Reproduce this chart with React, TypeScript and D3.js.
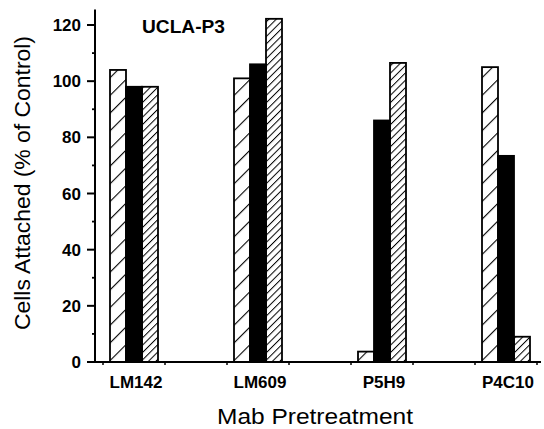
import * as d3 from 'd3';
import { useEffect, useRef } from 'react';

const categories = ['LM142', 'LM609', 'P5H9', 'P4C10'];
const series = ['open', 'solid', 'dense'];
const openValues = [104, 101, 3.7, 105];
const solidValues = [98, 106, 86, 73.4];
const denseValues = [98, 122.2, 106.5, 9];
const majorTicks = [0, 20, 40, 60, 80, 100, 120];
const minorTicks = [10, 30, 50, 70, 90, 110];

const width = 544;
const height = 429;

export default function App() {
    const svgRef = useRef<SVGSVGElement>(null);

    useEffect(() => {
        if (!svgRef.current) return;
        const svg = d3.select(svgRef.current);
        svg.selectAll('*').remove();

        const font = 'Liberation Sans, Arial, Helvetica, sans-serif';

        // hatch patterns
        const defs = svg.append('defs');
        const addHatch = (id: string, size: number, sw: number) => {
            defs.append('pattern')
                .attr('id', id)
                .attr('patternUnits', 'userSpaceOnUse')
                .attr('width', size)
                .attr('height', size)
                .attr('patternTransform', 'rotate(45)')
                .append('line')
                .attr('x1', 0).attr('y1', 0)
                .attr('x2', 0).attr('y2', size)
                .attr('stroke', '#000')
                .attr('stroke-width', sw);
        };
        addHatch('hatch-open', 12.5, 2.2);
        addHatch('hatch-dense', 5.2, 2);

        const x = d3.scalePoint<string>().domain(categories).range([134, 506]);
        const step = x.step();
        const inner = d3.scaleBand<string>().domain(series).range([-24, 24]).padding(0);
        const y = d3.scaleLinear().domain([0, 120]).range([362, 25]);

        const rows = categories.map((c, i) => ({
            cat: c,
            vals: [
                { s: 'open', v: openValues[i] },
                { s: 'solid', v: solidValues[i] },
                { s: 'dense', v: denseValues[i] },
            ],
        }));

        const fills: Record<string, string> = {
            open: 'url(#hatch-open)',
            solid: '#000',
            dense: 'url(#hatch-dense)',
        };

        // bars
        svg.append('g')
            .selectAll('g')
            .data(rows)
            .join('g')
            .attr('transform', (d) => `translate(${x(d.cat)},0)`)
            .selectAll('rect')
            .data((d) => d.vals)
            .join('rect')
            .attr('x', (d) => inner(d.s)!)
            .attr('width', inner.bandwidth())
            .attr('y', (d) => y(d.v))
            .attr('height', (d) => y(0) - y(d.v))
            .attr('fill', (d) => fills[d.s])
            .attr('stroke', '#000')
            .attr('stroke-width', 1.8);

        // y axis
        const yAxis = svg.append('g').attr('transform', 'translate(95,0)');
        yAxis.append('line')
            .attr('x1', 0).attr('x2', 0)
            .attr('y1', y(0)).attr('y2', y(125.5))
            .attr('stroke', '#000').attr('stroke-width', 2);
        yAxis.selectAll('.major')
            .data(majorTicks)
            .join('line')
            .attr('x1', -8).attr('x2', 0)
            .attr('y1', (d) => y(d)).attr('y2', (d) => y(d))
            .attr('stroke', '#000').attr('stroke-width', 2);
        yAxis.selectAll('.minor')
            .data(minorTicks)
            .join('line')
            .attr('x1', -3).attr('x2', 0)
            .attr('y1', (d) => y(d)).attr('y2', (d) => y(d))
            .attr('stroke', '#000').attr('stroke-width', 1.8);
        yAxis.selectAll('text')
            .data(majorTicks)
            .join('text')
            .attr('x', -14)
            .attr('y', (d) => y(d))
            .attr('dy', '0.36em')
            .attr('text-anchor', 'end')
            .attr('font-family', font)
            .attr('font-size', 17)
            .attr('font-weight', 'bold')
            .text((d) => d);

        // x axis
        const xAxis = svg.append('g').attr('transform', `translate(0,${y(0)})`);
        xAxis.append('line')
            .attr('x1', 94).attr('x2', 541)
            .attr('y1', 0).attr('y2', 0)
            .attr('stroke', '#000').attr('stroke-width', 2);
        const xTicks = categories.flatMap((c) => [x(c)! - step / 4, x(c)! + step / 4]);
        xAxis.selectAll('.tick')
            .data(xTicks)
            .join('line')
            .attr('x1', (d) => d).attr('x2', (d) => d)
            .attr('y1', 0).attr('y2', 3)
            .attr('stroke', '#000').attr('stroke-width', 1.5);
        xAxis.selectAll('text')
            .data(categories)
            .join('text')
            .attr('x', (d) => x(d)! + 2)
            .attr('y', 26)
            .attr('text-anchor', 'middle')
            .attr('font-family', font)
            .attr('font-size', 17)
            .attr('font-weight', 'bold')
            .text((d) => d);

        // titles
        svg.append('text')
            .attr('x', 142)
            .attr('y', 33)
            .attr('font-family', font)
            .attr('font-size', 19)
            .attr('font-weight', 'bold')
            .attr('textLength', 83)
            .attr('lengthAdjust', 'spacingAndGlyphs')
            .text('UCLA-P3');

        svg.append('text')
            .attr('x', 217)
            .attr('y', 424)
            .attr('font-family', font)
            .attr('font-size', 22)
            .attr('textLength', 196)
            .attr('lengthAdjust', 'spacingAndGlyphs')
            .text('Mab Pretreatment');

        svg.append('text')
            .attr('transform', 'translate(30,330) rotate(-90)')
            .attr('font-family', font)
            .attr('font-size', 22)
            .attr('textLength', 294)
            .attr('lengthAdjust', 'spacingAndGlyphs')
            .text('Cells Attached (% of Control)');
    }, []);

    return (
        <svg
            ref={svgRef}
            width={width}
            height={height}
            style={{ position: 'absolute', left: 0, top: 0, background: '#fff' }}
        />
    );
}
